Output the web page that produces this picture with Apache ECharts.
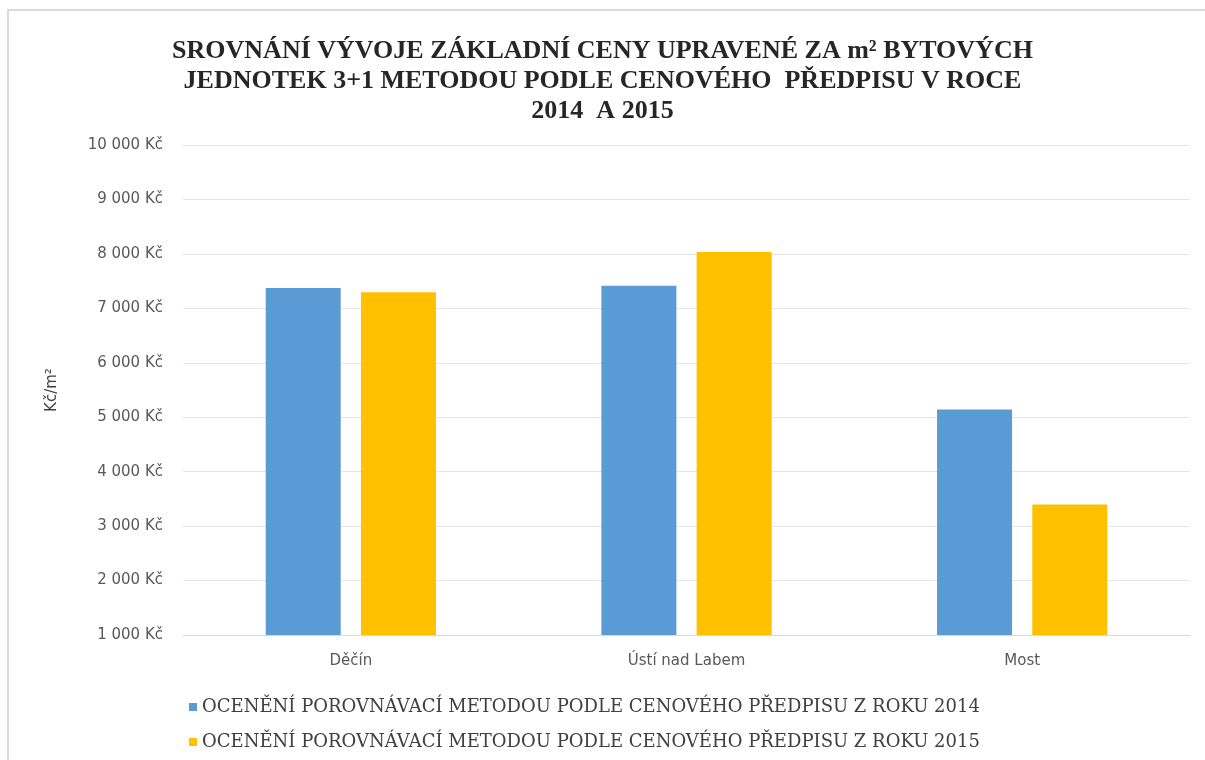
<!DOCTYPE html>
<html>
<head>
<meta charset="utf-8">
<script src="https://cdn.jsdelivr.net/npm/echarts@6/dist/echarts.min.js"></script>
<style>
html, body { margin: 0; padding: 0; background: #fff; }
#chart { width: 1205px; height: 760px; }
</style>
</head>
<body>
<div id="chart"></div>
<script>
var cities = ['Děčín', 'Ústí nad Labem', 'Most'];
var seriesNames = [
    'OCENĚNÍ POROVNÁVACÍ METODOU PODLE CENOVÉHO PŘEDPISU Z ROKU 2014',
    'OCENĚNÍ POROVNÁVACÍ METODOU PODLE CENOVÉHO PŘEDPISU Z ROKU 2015'
];
var price2014 = [7375, 7417, 5140];
var price2015 = [7294, 8035, 3395];

function fmtKc(v) {
    return String(v).replace(/\B(?=(\d{3})+(?!\d))/g, ' ') + ' Kč';
}

var chart = echarts.init(document.getElementById('chart'));
chart.setOption({
    backgroundColor: '#fff',
    animation: false,
    title: {
        text: 'SROVNÁNÍ VÝVOJE ZÁKLADNÍ CENY UPRAVENÉ ZA m² BYTOVÝCH\nJEDNOTEK 3+1 METODOU PODLE CENOVÉHO  PŘEDPISU V ROCE\n2014  A 2015',
        left: 'center',
        top: 31,
        textStyle: {
            fontFamily: 'Liberation Serif',
            fontWeight: 'bold',
            fontSize: 26,
            lineHeight: 30,
            color: '#262626'
        }
    },
    graphic: [{
        type: 'rect',
        shape: { x: 8, y: 10, width: 1220, height: 780 },
        style: { fill: 'none', stroke: '#d0d0d0', lineWidth: 1.5 },
        silent: true
    }],
    legend: {
        orient: 'vertical',
        left: 184,
        top: 693,
        itemWidth: 8,
        itemHeight: 8,
        itemGap: 17,
        icon: 'rect',
        textStyle: { fontFamily: 'DejaVu Serif', fontSize: 18, color: '#404040' },
        data: seriesNames
    },
    grid: { left: 183, right: 15, top: 145, bottom: 125 },
    xAxis: {
        type: 'category',
        data: cities,
        axisLine: { lineStyle: { color: '#d9d9d9' } },
        axisTick: { show: false },
        axisLabel: { fontFamily: 'DejaVu Sans', fontSize: 15, color: '#595959', margin: 19 }
    },
    yAxis: {
        type: 'value',
        min: 1000,
        max: 10000,
        interval: 1000,
        name: 'Kč/m²',
        nameLocation: 'middle',
        nameGap: 123,
        nameTextStyle: { fontFamily: 'DejaVu Sans', fontSize: 15, color: '#404040' },
        axisLabel: { formatter: fmtKc, fontFamily: 'DejaVu Sans', fontSize: 15, color: '#595959', margin: 20 },
        splitLine: { lineStyle: { color: '#e6e6e6' } }
    },
    series: [{
        name: seriesNames[0],
        type: 'bar',
        data: price2014,
        barWidth: 75,
        barGap: '27%',
        itemStyle: { color: '#5B9BD5' }
    }, {
        name: seriesNames[1],
        type: 'bar',
        data: price2015,
        barWidth: 75,
        itemStyle: { color: '#FFC000' }
    }]
});
</script>
</body>
</html>
